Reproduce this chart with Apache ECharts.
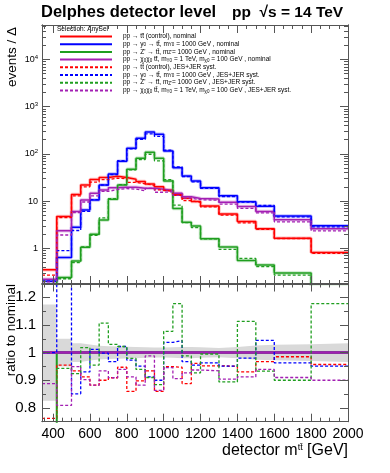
<!DOCTYPE html>
<html>
<head>
<meta charset="utf-8">
<script src="https://cdn.jsdelivr.net/npm/echarts@6.0.0/dist/echarts.min.js"></script>
<style>
  html, body { margin: 0; padding: 0; background: #fff; }
  #main { width: 390px; height: 473px; }
</style>
</head>
<body>
<div id="main"></div>
<script>
// bin edges of detector m(ttbar) [GeV]
var edges = [340, 420, 500, 550, 600, 650, 700, 750, 800, 850, 900, 950, 1000, 1050, 1100, 1150, 1200, 1300, 1400, 1500, 1600, 1800, 2000];

// events / bin, nominal and JES+JER syst. (0.01 = empty bin, below the log axis)
var ttNom  = [0.35, 4.7, 13.8, 21.9, 28.5, 31.5, 33.5, 31.5, 29, 26, 23, 20, 17, 14, 11.5, 9.8, 7.9, 5.3, 3.7, 2.6, 1.63, 0.81];
var ttSys  = [0.27, 4.49, 12.9, 20.0, 25.1, 28.4, 30.5, 29.8, 24.9, 23.3, 21.5, 17.2, 16.1, 13.3, 10.2, 9.4, 7.5, 5.04, 3.44, 2.51, 1.61, 0.78];
var y0Nom  = [0.2, 0.64, 2.8, 6.5, 10.6, 21.9, 37.5, 70, 131, 214, 290, 260, 115, 51, 34, 26.6, 19.2, 13.0, 9.7, 7.8, 4.8, 3.0];
var y0Sys  = [0.2, 0.89, 2.38, 6.05, 10.7, 21.9, 36.3, 71.5, 127.5, 203.5, 264.5, 234, 119.3, 53.2, 32.9, 25.4, 18.5, 12.4, 9.5, 8.14, 4.62, 2.85];
var zpNom  = [0.01, 0.24, 0.54, 1.05, 1.98, 3.97, 10.9, 21.9, 47, 80.8, 108, 80.8, 26.6, 7.0, 3.55, 2.96, 1.6, 1.06, 0.55, 0.44, 0.30, 0.15];
var zpSys  = [0.01, 0.226, 0.50, 1.07, 1.89, 4.39, 11.2, 22.4, 46, 75.9, 98.3, 71.4, 28.6, 8.24, 3.51, 2.74, 1.59, 0.95, 0.61, 0.41, 0.27, 0.177];
var chiNom = [0.22, 2.36, 6.0, 10.6, 14.6, 17.2, 19.2, 19.6, 19.6, 18.7, 18.7, 17.8, 16.6, 14.6, 12.4, 11.4, 11.1, 9.5, 7.7, 6.0, 4.0, 2.6];
var chiSys = [0.195, 1.91, 5.69, 9.56, 12.9, 16.1, 17.5, 18.4, 17.9, 16.5, 18.5, 15.4, 15.7, 13.2, 11.5, 10.7, 10.4, 8.6, 7.0, 5.63, 3.64, 2.34];

// ratio to nominal
var ttNomRatio  = [1, 1, 1, 1, 1, 1, 1, 1, 1, 1, 1, 1, 1, 1, 1, 1, 1, 1, 1, 1, 1, 1];
var y0NomRatio  = [1, 1, 1, 1, 1, 1, 1, 1, 1, 1, 1, 1, 1, 1, 1, 1, 1, 1, 1, 1, 1, 1];
var zpNomRatio  = [0, 1, 1, 1, 1, 1, 1, 1, 1, 1, 1, 1, 1, 1, 1, 1, 1, 1, 1, 1, 1, 1];
var chiNomRatio = [1, 1, 1, 1, 1, 1, 1, 1, 1, 1, 1, 1, 1, 1, 1, 1, 1, 1, 1, 1, 1, 1];
var ttRatio  = [0.762, 0.955, 0.934, 0.912, 0.882, 0.90, 0.909, 0.947, 0.86, 0.898, 0.934, 0.86, 0.949, 0.947, 0.888, 0.961, 0.952, 0.951, 0.93, 0.967, 0.985, 0.957];
var y0Ratio  = [1.0, 1.39, 0.851, 0.93, 1.012, 0.998, 0.967, 1.022, 0.973, 0.951, 0.912, 0.90, 1.037, 1.043, 0.967, 0.955, 0.963, 0.951, 0.98, 1.044, 0.963, 0.951];
var zpRatio  = [0, 0.943, 0.924, 1.018, 0.955, 1.107, 1.03, 1.022, 0.979, 0.939, 0.91, 0.884, 1.077, 1.177, 0.988, 0.927, 0.995, 0.894, 1.113, 0.933, 0.90, 1.177];
var chiRatio = [0.888, 0.809, 0.949, 0.902, 0.882, 0.934, 0.909, 0.939, 0.912, 0.882, 0.988, 0.863, 0.946, 0.906, 0.927, 0.937, 0.934, 0.904, 0.912, 0.939, 0.91, 0.90];
// grey uncertainty band, lower and upper edge
var bandLow  = [0.826, 0.95, 0.966, 0.971, 0.975, 0.977, 0.978, 0.979, 0.98, 0.981, 0.982, 0.982, 0.981, 0.98, 0.98, 0.981, 0.983, 0.98, 0.974, 0.972, 0.97, 0.966];
var bandHigh = [1.174, 1.05, 1.034, 1.029, 1.025, 1.023, 1.022, 1.021, 1.02, 1.019, 1.018, 1.018, 1.019, 1.02, 1.02, 1.019, 1.017, 1.02, 1.026, 1.028, 1.03, 1.034];

// tick values
var xMajor = [400, 600, 800, 1000, 1200, 1400, 1600, 1800, 2000];
var xMinor = [350, 450, 500, 550, 650, 700, 750, 850, 900, 950, 1050, 1100, 1150, 1250, 1300, 1350, 1450, 1500, 1550, 1650, 1700, 1750, 1850, 1900, 1950];
var logMajor = [1, 10, 100, 1000, 10000];
var ratioMajor = [0.8, 0.9, 1, 1.1, 1.2];
var ratioMinor = [0.75, 0.85, 0.95, 1.05, 1.15, 1.25];

var legendText = {
    ttNom:  'pp \u2192 tt\u0304 (control), nominal',
    y0Nom:  'pp \u2192 y{s|0} \u2192 tt\u0304, m{s|Y0} = 1000 GeV , nominal',
    zpNom:  'pp \u2192 Z\' \u2192 tt\u0304, m{s|Z\'}= 1000 GeV , nominal',
    chiNom: 'pp \u2192 \u03c7{s|0}\u03c7{s|0} tt\u0304, m{s|Y0} = 1 TeV, m{s|\u03c70} = 100 GeV , nominal',
    ttSys:  'pp \u2192 tt\u0304 (control), JES+JER syst.',
    y0Sys:  'pp \u2192 y{s|0} \u2192 tt\u0304, m{s|Y0} = 1000 GeV , JES+JER syst.',
    zpSys:  'pp \u2192 Z\' \u2192 tt\u0304, m{s|Z\'}= 1000 GeV , JES+JER syst.',
    chiSys: 'pp \u2192 \u03c7{s|0}\u03c7{s|0} tt\u0304, m{s|Y0} = 1 TeV, m{s|\u03c70} = 100 GeV , JES+JER syst.'
};

var RED = '#ff0000', BLUE = '#0000ff', GREEN = '#1f9e1f', PURPLE = '#a31fb3';
var AXIS = '#555555';
var FONT = 'Liberation Sans';

// log minor ticks 2..9 per decade
var logMinor = [];
for (var d = 0.1; d < 50000; d *= 10) {
    for (var k = 2; k <= 9; k++) {
        var v = +(d * k).toPrecision(3);
        if (v > 0.175 && v < 53800) logMinor.push(v);
    }
}

// histogram -> step points on the bin edges
function stepData(vals) {
    var out = [];
    for (var i = 0; i < edges.length; i++) {
        out.push([edges[i], vals[Math.min(i, vals.length - 1)]]);
    }
    return out;
}

function xAx(grid, pos, ticks, len, labels) {
    return {
        type: 'value', gridIndex: grid, position: pos, min: 340, max: 2000, z: 10,
        axisLine: { show: true, onZero: false, lineStyle: { color: AXIS, width: 1 } },
        splitLine: { show: false },
        axisTick: { show: true, inside: true, length: len, customValues: ticks, lineStyle: { color: AXIS } },
        axisLabel: labels ? {
            customValues: xMajor, margin: 5, color: '#000', fontSize: 14, fontFamily: FONT,
            formatter: function (val) { return String(val); }
        } : { show: false }
    };
}

function yLog(pos, ticks, len, labels) {
    return {
        type: 'log', logBase: 10, gridIndex: 0, position: pos, min: 0.175, max: 53800, z: 10,
        axisLine: { show: true, onZero: false, lineStyle: { color: AXIS, width: 1 } },
        splitLine: { show: false },
        axisTick: { show: true, inside: true, length: len, customValues: ticks, lineStyle: { color: AXIS } },
        axisLabel: labels ? {
            customValues: logMajor, margin: 4, color: '#000', fontFamily: FONT,
            formatter: function (val) {
                var n = Math.round(Math.log(val) / Math.LN10);
                if (n === 0) return '{a|1}';
                if (n === 1) return '{a|10}';
                return '{a|10}{p|' + n + '}';
            },
            rich: {
                a: { fontSize: 9, fontFamily: FONT, color: '#000', lineHeight: 11 },
                p: { fontSize: 6, fontFamily: FONT, color: '#000', lineHeight: 6, verticalAlign: 'top' }
            }
        } : { show: false }
    };
}

function yRatio(pos, ticks, len, labels) {
    return {
        type: 'value', gridIndex: 1, position: pos, min: 0.75, max: 1.25, z: 10,
        axisLine: { show: true, onZero: false, lineStyle: { color: AXIS, width: 1 } },
        splitLine: { show: false },
        axisTick: { show: true, inside: true, length: len, customValues: ticks, lineStyle: { color: AXIS } },
        axisLabel: labels ? {
            customValues: ratioMajor, margin: 6, color: '#000', fontSize: 15, fontFamily: FONT,
            formatter: function (val) { return String(+val.toFixed(1)); }
        } : { show: false }
    };
}

function histo(name, vals, color, width, dashed, grid, opacity, z) {
    return {
        name: name, type: 'line', step: 'end',
        xAxisIndex: grid === 0 ? 0 : 4, yAxisIndex: grid === 0 ? 0 : 4,
        data: stepData(vals), symbol: 'none', showSymbol: false, clip: true,
        silent: true, animation: false, z: z || 3,
        lineStyle: { color: color, width: width, type: dashed ? [3, 2] : 'solid', opacity: opacity == null ? 1 : opacity },
        itemStyle: { color: color }
    };
}

var series = [
    // faint halo of the nominal curves
    histo('h1', ttNom, RED, 3.5, false, 0, 0.25, 2),
    histo('h2', y0Nom, BLUE, 3.5, false, 0, 0.25, 2),
    histo('h3', zpNom, GREEN, 3.5, false, 0, 0.25, 2),
    histo('h4', chiNom, PURPLE, 3.5, false, 0, 0.25, 2),
    histo('ttNom', ttNom, RED, 1.5, false, 0),
    histo('y0Nom', y0Nom, BLUE, 1.5, false, 0),
    histo('zpNom', zpNom, GREEN, 1.5, false, 0),
    histo('chiNom', chiNom, PURPLE, 1.5, false, 0),
    histo('ttSys', ttSys, RED, 1.3, true, 0, 1, 4),
    histo('y0Sys', y0Sys, BLUE, 1.3, true, 0, 1, 4),
    histo('zpSys', zpSys, GREEN, 1.3, true, 0, 1, 4),
    histo('chiSys', chiSys, PURPLE, 1.3, true, 0, 1, 4)
];

// grey band in the ratio pad: grey down to the axis from the upper edge,
// then white from the lower edge to cut it back out
var bTop = histo('bandTop', bandHigh, '#d0d0d0', 0, false, 1, 0, 1);
bTop.areaStyle = { color: '#d9d9d9', opacity: 1, origin: 'start' };
var bLow = histo('bandLow', bandLow, '#ffffff', 0, false, 1, 0, 1);
bLow.areaStyle = { color: '#ffffff', opacity: 1, origin: 'start' };
series.push(bTop, bLow);

series.push(
    histo('rn1', ttNomRatio, RED, 2, false, 1),
    histo('rn2', y0NomRatio, BLUE, 2, false, 1),
    histo('rn3', zpNomRatio, GREEN, 2, false, 1),
    histo('rn4', chiNomRatio, PURPLE, 2.5, false, 1),
    histo('rs1', ttRatio, RED, 1.3, true, 1, 1, 4),
    histo('rs2', y0Ratio, BLUE, 1.3, true, 1, 1, 4),
    histo('rs3', zpRatio, GREEN, 1.3, true, 1, 1, 4),
    histo('rs4', chiRatio, PURPLE, 1.3, true, 1, 1, 4)
);

var myChart = echarts.init(document.getElementById('main'));

var option = {
    backgroundColor: '#fff',
    animation: false,
    title: [
        { text: 'Delphes detector level', left: 41, top: 4, padding: 0,
          textStyle: { fontSize: 16.5, fontWeight: 'bold', fontFamily: FONT, color: '#000' } },
        { text: 'pp  \u221as = 14 TeV', left: 232, top: 5, padding: 0,
          textStyle: { fontSize: 15.5, fontWeight: 'bold', fontFamily: FONT, color: '#000' } },
        { text: 'Selection: AnySel', left: 57, top: 26, padding: 0,
          textStyle: { fontSize: 6.5, fontWeight: 'normal', fontFamily: FONT, color: '#000' } },
        { text: 'detector m{p|tt\u0304} [GeV]', right: 42, top: 443, padding: 0,
          textStyle: { fontSize: 16, fontWeight: 'normal', fontFamily: FONT, color: '#000',
              rich: { p: { fontSize: 9, fontFamily: FONT, verticalAlign: 'top', lineHeight: 9 } } } }
    ],
    legend: {
        orient: 'vertical', left: 59, top: 33, padding: 0,
        itemWidth: 52, itemHeight: 7, itemGap: 0.7, selectedMode: false,
        itemStyle: { opacity: 0 },
        data: ['ttNom', 'y0Nom', 'zpNom', 'chiNom', 'ttSys', 'y0Sys', 'zpSys', 'chiSys'],
        formatter: function (name) { return legendText[name]; },
        textStyle: {
            fontSize: 6.5, fontFamily: FONT, color: '#000', lineHeight: 7, padding: [0, 0, 0, 6],
            rich: { s: { fontSize: 4.5, fontFamily: FONT, verticalAlign: 'bottom', lineHeight: 7 } }
        }
    },
    graphic: [
        { type: 'text', x: 12, y: 27, rotation: Math.PI / 2,
          style: { text: 'events / \u0394', fontSize: 13.5, fontFamily: FONT, fill: '#000', align: 'right', verticalAlign: 'middle' } },
        { type: 'text', x: 11, y: 284, rotation: Math.PI / 2,
          style: { text: 'ratio to nominal', fontSize: 13.5, fontFamily: FONT, fill: '#000', align: 'right', verticalAlign: 'middle' } }
    ],
    grid: [
        { left: 42, right: 42, top: 25, height: 259, show: false },
        { left: 42, right: 42, top: 283.5, height: 138.2, show: false }
    ],
    xAxis: [
        xAx(0, 'bottom', xMajor, 8, false),
        xAx(0, 'bottom', xMinor, 4, false),
        xAx(0, 'top', xMajor, 8, false),
        xAx(0, 'top', xMinor, 4, false),
        xAx(1, 'bottom', xMajor, 8, true),
        xAx(1, 'bottom', xMinor, 4, false),
        xAx(1, 'top', xMajor, 8, false),
        xAx(1, 'top', xMinor, 4, false)
    ],
    yAxis: [
        yLog('left', logMajor, 8, true),
        yLog('left', logMinor, 4, false),
        yLog('right', logMajor, 8, false),
        yLog('right', logMinor, 4, false),
        yRatio('left', ratioMajor, 8, true),
        yRatio('left', ratioMinor, 4, false),
        yRatio('right', ratioMajor, 8, false),
        yRatio('right', ratioMinor, 4, false)
    ],
    series: series
};

myChart.setOption(option);
</script>
</body>
</html>
